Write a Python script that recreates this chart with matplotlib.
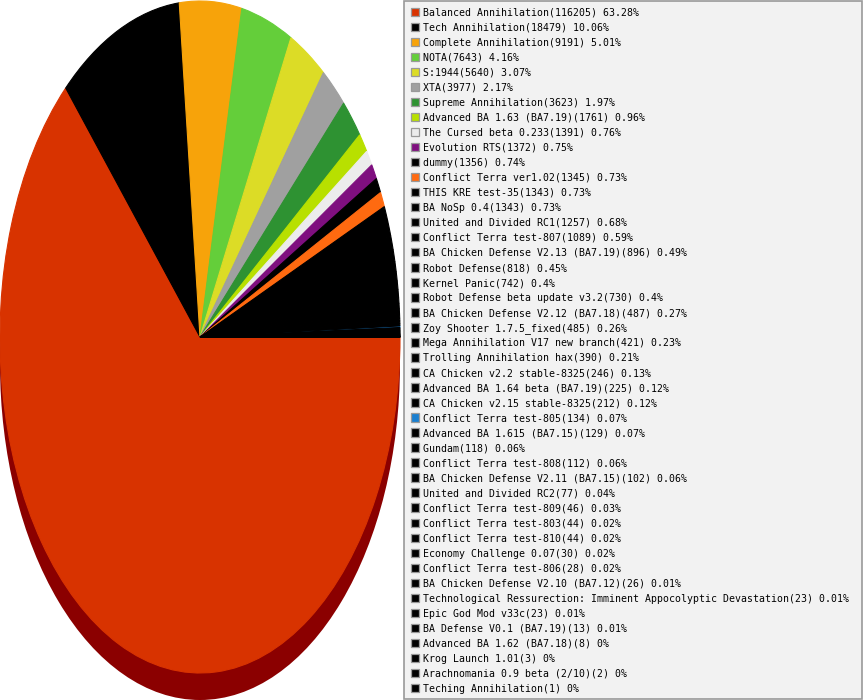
import matplotlib
matplotlib.use("Agg")
import matplotlib.pyplot as plt
from matplotlib.patches import Ellipse, Rectangle

names = [
    "Balanced Annihilation", "Tech Annihilation", "Complete Annihilation", "NOTA", "S:1944", "XTA",
    "Supreme Annihilation", "Advanced BA 1.63 (BA7.19)", "The Cursed beta 0.233", "Evolution RTS",
    "dummy", "Conflict Terra ver1.02", "THIS KRE test-35", "BA NoSp 0.4", "United and Divided RC1",
    "Conflict Terra test-807", "BA Chicken Defense V2.13 (BA7.19)", "Robot Defense", "Kernel Panic",
    "Robot Defense beta update v3.2", "BA Chicken Defense V2.12 (BA7.18)", "Zoy Shooter 1.7.5_fixed",
    "Mega Annihilation V17 new branch", "Trolling Annihilation hax", "CA Chicken v2.2 stable-8325",
    "Advanced BA 1.64 beta (BA7.19)", "CA Chicken v2.15 stable-8325", "Conflict Terra test-805",
    "Advanced BA 1.615 (BA7.15)", "Gundam", "Conflict Terra test-808", "BA Chicken Defense V2.11 (BA7.15)",
    "United and Divided RC2", "Conflict Terra test-809", "Conflict Terra test-803", "Conflict Terra test-810",
    "Economy Challenge 0.07", "Conflict Terra test-806", "BA Chicken Defense V2.10 (BA7.12)",
    "Technological Ressurection: Imminent Appocolyptic Devastation", "Epic God Mod v33c",
    "BA Defense V0.1 (BA7.19)", "Advanced BA 1.62 (BA7.18)", "Krog Launch 1.01",
    "Arachnomania 0.9 beta (2/10)", "Teching Annihilation",
]
counts = [
    116205, 18479, 9191, 7643, 5640, 3977, 3623, 1761, 1391, 1372, 1356, 1345, 1343, 1343, 1257,
    1089, 896, 818, 742, 730, 487, 485, 421, 390, 246, 225, 212, 134, 129, 118, 112, 102, 77,
    46, 44, 44, 30, 28, 26, 23, 23, 13, 8, 3, 2, 1,
]
special_colors = {
    0: "#d83300", 2: "#f7a30a", 3: "#64ce3a", 4: "#dcdc26", 5: "#a0a0a0", 6: "#2e9232",
    7: "#b8e000", 8: "#ececec", 9: "#7f0f7f", 11: "#ff6a10", 27: "#1a7fd0",
}
colors = [special_colors.get(i, "#000000") for i in range(len(counts))]

total = sum(counts)
def fmt_pct(c):
    s = f"{100.0 * c / total:.2f}".rstrip("0").rstrip(".")
    return s + "%"
labels = [f"{n}({c}) {fmt_pct(c)}" for n, c in zip(names, counts)]

W, H = 863, 700
fig = plt.figure(figsize=(W / 100, H / 100), dpi=100)
fig.patch.set_facecolor("white")

# pie axes (ellipse bounding box in pixels: x 0..400, y 1..673 from top)
px0, px1, py0, py1 = 0, 400, 1, 673
ax = fig.add_axes([px0 / W, 1 - py1 / H, (px1 - px0) / W, (py1 - py0) / H])

# 3D depth / shadow
shadow_off = 27 / ((py1 - py0) / 2)
ax.add_patch(Ellipse((0, -shadow_off), 2, 2, facecolor="#8b0000", edgecolor="none",
                     clip_on=False, zorder=0))
wedges, _ = ax.pie(counts, colors=colors, startangle=0, counterclock=False, radius=1,
                   wedgeprops=dict(linewidth=0.8), frame=False)
for w, c, n in zip(wedges, colors, counts):
    w.set_edgecolor(c)
    # very thin slices sit underneath their neighbours
    w.set_zorder(0.9 if n / total < 0.001 and c != "#000000" else 1)
ax.set_xlim(-1, 1)
ax.set_ylim(-1, 1)
ax.set_aspect("auto")
ax.axis("off")

# legend box
lx0, lx1, ly0, ly1 = 403, 862, 0, 699
lax = fig.add_axes([0, 0, 1, 1], zorder=5)
lax.set_xlim(0, W)
lax.set_ylim(H, 0)
lax.axis("off")
lax.add_patch(Rectangle((lx0 + 0.5, ly0 + 0.5), lx1 - lx0 - 1, ly1 - ly0 - 1,
                        facecolor="#f2f2f2", edgecolor="#999999", linewidth=1.2))
row0, step = 12.0, 15.03
for i, (lab, col) in enumerate(zip(labels, colors)):
    yc = row0 + i * step
    lax.add_patch(Rectangle((410.5, yc - 4.5), 8.5, 8.5, facecolor=col, edgecolor="#999999",
                            linewidth=0.9))
    lax.text(423, yc + 0.5, lab, fontsize=7.15, family="DejaVu Sans Mono", color="#000000",
             va="center", ha="left")

fig.savefig("out.png", dpi=100)
